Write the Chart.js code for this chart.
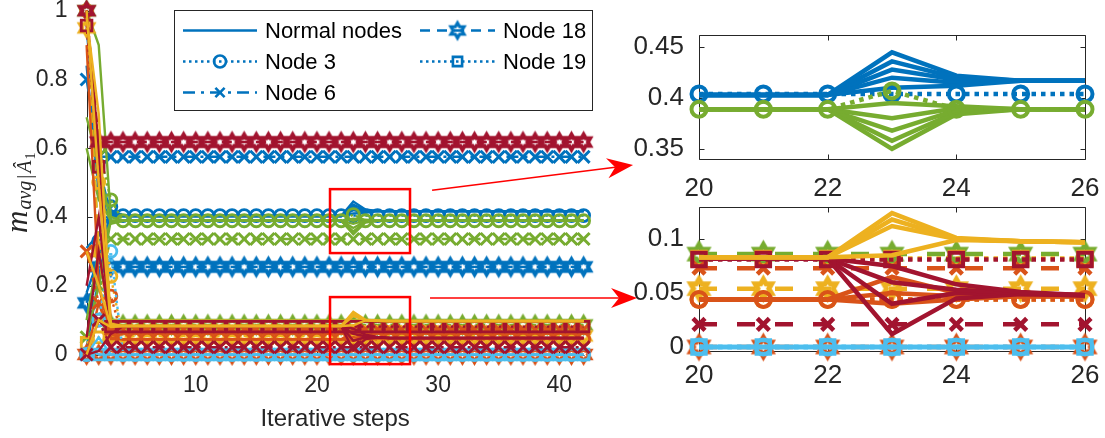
<!DOCTYPE html>
<html>
<head>
<meta charset="utf-8">
<script src="https://cdn.jsdelivr.net/npm/chart.js"></script>
<style>
  html, body { margin: 0; padding: 0; background: #fff; }
  #wrap { position: relative; width: 1105px; height: 438px; overflow: hidden; }
  #wrap canvas { position: absolute; }
</style>
</head>
<body>
<div id="wrap">
  <canvas id="main" width="1105" height="438" style="left:0;top:0;"></canvas>
  <canvas id="zoomHigh" width="495" height="215" style="left:610px;top:0;"></canvas>
  <canvas id="zoomLow" width="495" height="243" style="left:610px;top:195px;"></canvas>
</div>
<script>
// ---------------- data ----------------
const steps = [1,2,3,4,5,6,7,8,9,10,11,12,13,14,15,16,17,18,19,20,21,22,23,24,25,26,27,28,29,30,31,32,33,34,35,36,37,38,39,40,41,42];

const xTickValues = [10, 20, 30, 40];
const yTickValues = [0, 0.2, 0.4, 0.6, 0.8, 1];
const zoomXTicks = [20, 22, 24, 26];
const zoomHighYTicks = [0.35, 0.4, 0.45];
const zoomLowYTicks = [0, 0.05, 0.1];

// blue group
const blueNormal1 = [.84,.47,.42,
  .403,.403,.403,.403,.403, .403,.403,.403,.403,.403, .403,.403,.403,.403,.403, .403,.403,.403,.403,
  .445,.422,.417,.417,
  .417,.417,.417,.417,.417, .417,.417,.417,.417,.417, .417,.417,.417,.417,.417, .417];
const blueNormal2 = [.31,.35,.41,
  .403,.403,.403,.403,.403, .403,.403,.403,.403,.403, .403,.403,.403,.403,.403, .403,.403,.403,.403,
  .436,.420,.417,.417,
  .417,.417,.417,.417,.417, .417,.417,.417,.417,.417, .417,.417,.417,.417,.417, .417];
const blueNormal3 = [.02,.22,.40,
  .403,.403,.403,.403,.403, .403,.403,.403,.403,.403, .403,.403,.403,.403,.403, .403,.403,.403,.403,
  .428,.418,.417,.417,
  .417,.417,.417,.417,.417, .417,.417,.417,.417,.417, .417,.417,.417,.417,.417, .417];
const blueNormal4 = [.18,.28,.415,
  .403,.403,.403,.403,.403, .403,.403,.403,.403,.403, .403,.403,.403,.403,.403, .403,.403,.403,.403,
  .420,.415,.417,.417,
  .417,.417,.417,.417,.417, .417,.417,.417,.417,.417, .417,.417,.417,.417,.417, .417];
const blueNormal5 = [.95,.55,.405,
  .403,.403,.403,.403,.403, .403,.403,.403,.403,.403, .403,.403,.403,.403,.403, .403,.403,.403,.403,
  .410,.412,.417,.417,
  .417,.417,.417,.417,.417, .417,.417,.417,.417,.417, .417,.417,.417,.417,.417, .417];
const blueNode3 = [0,.33,.43,
  .404,.404,.404,.404,.404, .404,.404,.404,.404,.404, .404,.404,.404,.404,.404, .404,.404,.404,.404,
  .404,.404,.404,.404,
  .404,.404,.404,.404,.404, .404,.404,.404,.404,.404, .404,.404,.404,.404,.404, .404];
const blueNode6 = [.80,.575,.575,
  .575,.575,.575,.575,.575, .575,.575,.575,.575,.575, .575,.575,.575,.575,.575, .575,.575,.575,.575,
  .575,.575,.575,.575,
  .575,.575,.575,.575,.575, .575,.575,.575,.575,.575, .575,.575,.575,.575,.575, .575];
const blueNode18 = [.15,.255,.255,
  .255,.255,.255,.255,.255, .255,.255,.255,.255,.255, .255,.255,.255,.255,.255, .255,.255,.255,.255,
  .255,.255,.255,.255,
  .255,.255,.255,.255,.255, .255,.255,.255,.255,.255, .255,.255,.255,.255,.255, .255];

// green group
const greenNormal1 = [1,.90,.40,
  .389,.389,.389,.389,.389, .389,.389,.389,.389,.389, .389,.389,.389,.389,.389, .389,.389,.389,.389,
  .350,.384,.389,.389,
  .389,.389,.389,.389,.389, .389,.389,.389,.389,.389, .389,.389,.389,.389,.389, .389];
const greenNormal2 = [.69,.55,.38,
  .389,.389,.389,.389,.389, .389,.389,.389,.389,.389, .389,.389,.389,.389,.389, .389,.389,.389,.389,
  .358,.386,.389,.389,
  .389,.389,.389,.389,.389, .389,.389,.389,.389,.389, .389,.389,.389,.389,.389, .389];
const greenNormal3 = [.10,.30,.385,
  .389,.389,.389,.389,.389, .389,.389,.389,.389,.389, .389,.389,.389,.389,.389, .389,.389,.389,.389,
  .368,.388,.389,.389,
  .389,.389,.389,.389,.389, .389,.389,.389,.389,.389, .389,.389,.389,.389,.389, .389];
const greenNormal4 = [.05,.20,.39,
  .389,.389,.389,.389,.389, .389,.389,.389,.389,.389, .389,.389,.389,.389,.389, .389,.389,.389,.389,
  .380,.390,.389,.389,
  .389,.389,.389,.389,.389, .389,.389,.389,.389,.389, .389,.389,.389,.389,.389, .389];
const greenNormal5 = [.60,.45,.39,
  .389,.389,.389,.389,.389, .389,.389,.389,.389,.389, .389,.389,.389,.389,.389, .389,.389,.389,.389,
  .395,.392,.389,.389,
  .389,.389,.389,.389,.389, .389,.389,.389,.389,.389, .389,.389,.389,.389,.389, .389];
const greenNode3 = [1,.60,.45,
  .389,.389,.389,.389,.389, .389,.389,.389,.389,.389, .389,.389,.389,.389,.389, .389,.389,.389,.389,
  .407,.389,.389,.389,
  .389,.389,.389,.389,.389, .389,.389,.389,.389,.389, .389,.389,.389,.389,.389, .389];
const greenNode6 = [.05,.20,.336,
  .336,.336,.336,.336,.336, .336,.336,.336,.336,.336, .336,.336,.336,.336,.336, .336,.336,.336,.336,
  .336,.336,.336,.336,
  .336,.336,.336,.336,.336, .336,.336,.336,.336,.336, .336,.336,.336,.336,.336, .336];
const greenNode18 = [1,.30,.086,
  .086,.086,.086,.086,.086, .086,.086,.086,.086,.086, .086,.086,.086,.086,.086, .086,.086,.086,.086,
  .086,.086,.086,.086,
  .086,.086,.086,.086,.086, .086,.086,.086,.086,.086, .086,.086,.086,.086,.086, .086];

// yellow group (special nodes)
const yellowNode18 = [.95,.30,.054,
  .054,.054,.054,.054,.054, .054,.054,.054,.054,.054, .054,.054,.054,.054,.054, .054,.054,.054,.054,
  .054,.054,.054,.054,
  .054,.054,.054,.054,.054, .054,.054,.054,.054,.054, .054,.054,.054,.054,.054, .054];
const yellowNode19 = [.034,.05,.082,
  .082,.082,.082,.082,.082, .082,.082,.082,.082,.082, .082,.082,.082,.082,.082, .082,.082,.082,.082,
  .082,.082,.082,.082,
  .082,.082,.082,.082,.082, .082,.082,.082,.082,.082, .082,.082,.082,.082,.082, .082];
const yellowNode3 = [1,.50,.227,
  .044,.044,.044,.044,.044, .044,.044,.044,.044,.044, .044,.044,.044,.044,.044, .044,.044,.044,.044,
  .044,.044,.044,.044,
  .044,.044,.044,.044,.044, .044,.044,.044,.044,.044, .044,.044,.044,.044,.044, .044];

// orange group
const orangeNormal1 = [1,.50,.06,
  .044,.044,.044,.044,.044, .044,.044,.044,.044,.044, .044,.044,.044,.044,.044, .044,.044,.044,.044,
  .040,.044,.047,.047,
  .047,.047,.047,.047,.047, .047,.047,.047,.047,.047, .047,.047,.047,.047,.047, .047];
const orangeNormal2 = [.90,.20,.05,
  .044,.044,.044,.044,.044, .044,.044,.044,.044,.044, .044,.044,.044,.044,.044, .044,.044,.044,.044,
  .050,.047,.047,.047,
  .047,.047,.047,.047,.047, .047,.047,.047,.047,.047, .047,.047,.047,.047,.047, .047];
const orangeNormal3 = [0,.15,.045,
  .044,.044,.044,.044,.044, .044,.044,.044,.044,.044, .044,.044,.044,.044,.044, .044,.044,.044,.044,
  .065,.050,.047,.047,
  .047,.047,.047,.047,.047, .047,.047,.047,.047,.047, .047,.047,.047,.047,.047, .047];
const orangeNode3 = [0,.10,.17,
  .044,.044,.044,.044,.044, .044,.044,.044,.044,.044, .044,.044,.044,.044,.044, .044,.044,.044,.044,
  .044,.044,.044,.044,
  .044,.044,.044,.044,.044, .044,.044,.044,.044,.044, .044,.044,.044,.044,.044, .044];
const orangeNode6 = [.30,.15,.073,
  .073,.073,.073,.073,.073, .073,.073,.073,.073,.073, .073,.073,.073,.073,.073, .073,.073,.073,.073,
  .073,.073,.073,.073,
  .073,.073,.073,.073,.073, .073,.073,.073,.073,.073, .073,.073,.073,.073,.073, .073];
const orangeNode18 = [0,0,0,
  0,0,0,0,0, 0,0,0,0,0, 0,0,0,0,0, 0,0,0,0,
  0,0,0,0,
  0,0,0,0,0, 0,0,0,0,0, 0,0,0,0,0, 0];

// light blue group
const lightBlueNormal1 = [0,.05,0,
  0,0,0,0,0, 0,0,0,0,0, 0,0,0,0,0, 0,0,0,0,
  0,0,0,0,
  0,0,0,0,0, 0,0,0,0,0, 0,0,0,0,0, 0];
const lightBlueNormal2 = [.02,0,0,
  0,0,0,0,0, 0,0,0,0,0, 0,0,0,0,0, 0,0,0,0,
  0,0,0,0,
  0,0,0,0,0, 0,0,0,0,0, 0,0,0,0,0, 0];
const lightBlueNode3 = [0,.10,.30,
  0,0,0,0,0, 0,0,0,0,0, 0,0,0,0,0, 0,0,0,0,
  0,0,0,0,
  0,0,0,0,0, 0,0,0,0,0, 0,0,0,0,0, 0];
const lightBlueNode19 = [0,0,0,
  0,0,0,0,0, 0,0,0,0,0, 0,0,0,0,0, 0,0,0,0,
  0,0,0,0,
  0,0,0,0,0, 0,0,0,0,0, 0,0,0,0,0, 0];

// dark red group
const darkRedNormal1 = [0,.01,.06,
  .082,.082,.082,.082,.082, .082,.082,.082,.082,.082, .082,.082,.082,.082,.082, .082,.082,.082,.082,
  .012,.045,.049,.048,
  .048,.048,.048,.048,.048, .048,.048,.048,.048,.048, .048,.048,.048,.048,.048, .048];
const darkRedNormal2 = [.05,.30,.085,
  .082,.082,.082,.082,.082, .082,.082,.082,.082,.082, .082,.082,.082,.082,.082, .082,.082,.082,.082,
  .040,.050,.049,.048,
  .048,.048,.048,.048,.048, .048,.048,.048,.048,.048, .048,.048,.048,.048,.048, .048];
const darkRedNormal3 = [1,.60,.09,
  .082,.082,.082,.082,.082, .082,.082,.082,.082,.082, .082,.082,.082,.082,.082, .082,.082,.082,.082,
  .060,.053,.050,.048,
  .048,.048,.048,.048,.048, .048,.048,.048,.048,.048, .048,.048,.048,.048,.048, .048];
const darkRedNormal4 = [.20,.40,.082,
  .082,.082,.082,.082,.082, .082,.082,.082,.082,.082, .082,.082,.082,.082,.082, .082,.082,.082,.082,
  .075,.058,.051,.048,
  .048,.048,.048,.048,.048, .048,.048,.048,.048,.048, .048,.048,.048,.048,.048, .048];
const darkRedNode6 = [0,.10,.021,
  .021,.021,.021,.021,.021, .021,.021,.021,.021,.021, .021,.021,.021,.021,.021, .021,.021,.021,.021,
  .021,.021,.021,.021,
  .021,.021,.021,.021,.021, .021,.021,.021,.021,.021, .021,.021,.021,.021,.021, .021];
const darkRedNode18 = [1,.618,.618,
  .618,.618,.618,.618,.618, .618,.618,.618,.618,.618, .618,.618,.618,.618,.618, .618,.618,.618,.618,
  .618,.618,.618,.618,
  .618,.618,.618,.618,.618, .618,.618,.618,.618,.618, .618,.618,.618,.618,.618, .618];
const darkRedNode19 = [.957,.546,.081,
  .081,.081,.081,.081,.081, .081,.081,.081,.081,.081, .081,.081,.081,.081,.081, .081,.081,.081,.081,
  .081,.081,.081,.081,
  .081,.081,.081,.081,.081, .081,.081,.081,.081,.081, .081,.081,.081,.081,.081, .081];

// yellow group (normal nodes)
const yellowNormal1 = [1,.50,.083,
  .083,.083,.083,.083,.083, .083,.083,.083,.083,.083, .083,.083,.083,.083,.083, .083,.083,.083,.083,
  .124,.101,.098,.097,
  .097,.097,.097,.097,.097, .097,.097,.097,.097,.097, .097,.097,.097,.097,.097, .097];
const yellowNormal2 = [.98,.70,.09,
  .083,.083,.083,.083,.083, .083,.083,.083,.083,.083, .083,.083,.083,.083,.083, .083,.083,.083,.083,
  .118,.100,.098,.097,
  .097,.097,.097,.097,.097, .097,.097,.097,.097,.097, .097,.097,.097,.097,.097, .097];
const yellowNormal3 = [0,.10,.08,
  .083,.083,.083,.083,.083, .083,.083,.083,.083,.083, .083,.083,.083,.083,.083, .083,.083,.083,.083,
  .112,.100,.098,.097,
  .097,.097,.097,.097,.097, .097,.097,.097,.097,.097, .097,.097,.097,.097,.097, .097];
const yellowNormal4 = [.30,.20,.083,
  .083,.083,.083,.083,.083, .083,.083,.083,.083,.083, .083,.083,.083,.083,.083, .083,.083,.083,.083,
  .085,.099,.098,.097,
  .097,.097,.097,.097,.097, .097,.097,.097,.097,.097, .097,.097,.097,.097,.097, .097];

// plotting order: later rows are drawn on top
const seriesTable = [
  ['blue', 'normal', blueNormal1], ['blue', 'normal', blueNormal2], ['blue', 'normal', blueNormal3],
  ['blue', 'normal', blueNormal4], ['blue', 'normal', blueNormal5],
  ['blue', 'n3', blueNode3], ['blue', 'n6', blueNode6], ['blue', 'n18', blueNode18],
  ['green', 'normal', greenNormal1], ['green', 'normal', greenNormal2], ['green', 'normal', greenNormal3],
  ['green', 'normal', greenNormal4], ['green', 'normal', greenNormal5],
  ['green', 'n3', greenNode3], ['green', 'n6', greenNode6], ['green', 'n18', greenNode18],
  ['yellow', 'n18', yellowNode18], ['yellow', 'n19', yellowNode19], ['yellow', 'n3', yellowNode3],
  ['orange', 'normal', orangeNormal1], ['orange', 'normal', orangeNormal2], ['orange', 'normal', orangeNormal3],
  ['orange', 'n3', orangeNode3], ['orange', 'n6', orangeNode6], ['orange', 'n18', orangeNode18],
  ['lightBlue', 'normal', lightBlueNormal1], ['lightBlue', 'normal', lightBlueNormal2],
  ['lightBlue', 'n3', lightBlueNode3], ['lightBlue', 'n19', lightBlueNode19],
  ['darkRed', 'normal', darkRedNormal1], ['darkRed', 'normal', darkRedNormal2],
  ['darkRed', 'normal', darkRedNormal3], ['darkRed', 'normal', darkRedNormal4],
  ['darkRed', 'n6', darkRedNode6], ['darkRed', 'n18', darkRedNode18], ['darkRed', 'n19', darkRedNode19],
  ['yellow', 'normal', yellowNormal1], ['yellow', 'normal', yellowNormal2],
  ['yellow', 'normal', yellowNormal3], ['yellow', 'normal', yellowNormal4]
];

const legendItems = [['Normal nodes', 'normal'], ['Node 3', 'n3'], ['Node 6', 'n6'], ['Node 18', 'n18'], ['Node 19', 'n19']];

seriesTable.forEach(([, , v], i) => {
  if (v.length !== steps.length) throw new Error('series ' + i + ' has ' + v.length + ' values');
});

// ---------------- styles ----------------
const INK = '#262626';
const FONT = "'Liberation Sans', Arial, Helvetica, sans-serif";
const SERIF = "'Liberation Serif', 'DejaVu Serif', serif";
const palette = {
  blue: '#0072BD', orange: '#D95319', yellow: '#EDB120',
  green: '#77AC30', lightBlue: '#4DBEEE', darkRed: '#A2142F'
};
const kinds = {
  normal: { dash: 'solid', marker: null },
  n3: { dash: 'dotted', marker: 'circle' },
  n6: { dash: 'dashdot', marker: 'cross' },
  n18: { dash: 'dashed', marker: 'hex' },
  n19: { dash: 'dotted', marker: 'rect' }
};
const looks = {
  main: {
    line: 2.4,
    dash: { solid: [], dotted: [2.5, 3.5], dashed: [10, 7], dashdot: [12, 6, 3, 6] },
    circle: [6, 2.8], cross: [8.5, 3], rect: [7.5, 2.8], hex: [7.5, 4]
  },
  legend: {
    line: 2.4,
    dash: { solid: [], dotted: [2.5, 3.5], dashed: [10, 7], dashdot: [12, 6, 3, 6] },
    circle: [6, 2.6], cross: [6.5, 2.6], rect: [6.5, 2.6], hex: [7.5, 3.2]
  },
  zoom: {
    line: 4.5,
    dash: { solid: [], dotted: [4.5, 5], dashed: [18, 20], dashdot: [18, 20] },
    circle: [7.5, 4], cross: [8.5, 4.5], rect: [9.5, 4], hex: [9.5, 5]
  }
};

Chart.defaults.font.family = FONT;
Chart.defaults.color = INK;

const hexCache = {};
function hexagram(color, R, w) {
  const key = color + R + '_' + w;
  if (hexCache[key]) return hexCache[key];
  const size = Math.ceil(2 * R + 4 * w + 2);
  const c = document.createElement('canvas');
  c.width = size; c.height = size;
  const g = c.getContext('2d');
  g.translate(size / 2, size / 2);
  const r = R / Math.sqrt(3);
  g.beginPath();
  for (let i = 0; i < 12; i++) {
    const a = -Math.PI / 2 + i * Math.PI / 6;
    const rr = i % 2 ? r : R;
    g.lineTo(rr * Math.cos(a), rr * Math.sin(a));
  }
  g.closePath();
  g.strokeStyle = color; g.lineWidth = w; g.lineJoin = 'miter';
  g.stroke();
  hexCache[key] = c;
  return c;
}

function styledDataset(group, kind, pts, look, i) {
  const k = kinds[kind];
  const col = palette[group];
  const ds = {
    data: pts, order: -i,
    borderColor: col, borderWidth: look.line, borderDash: look.dash[k.dash],
    pointRadius: 0, pointBorderWidth: 0,
    pointBorderColor: col, pointBackgroundColor: 'rgba(0,0,0,0)',
    fill: false, tension: 0, clip: false
  };
  if (k.marker === 'circle') { ds.pointStyle = 'circle'; [ds.pointRadius, ds.pointBorderWidth] = look.circle; }
  if (k.marker === 'cross') { ds.pointStyle = 'crossRot'; [ds.pointRadius, ds.pointBorderWidth] = look.cross; }
  if (k.marker === 'rect') { ds.pointStyle = 'rect'; [ds.pointRadius, ds.pointBorderWidth] = look.rect; }
  if (k.marker === 'hex') { ds.pointStyle = hexagram(col, look.hex[0], look.hex[1]); ds.pointRadius = look.hex[0]; }
  return ds;
}

function buildDatasets(look, keepStep, yMin, yMax) {
  const out = [];
  seriesTable.forEach(([group, kind, values], i) => {
    const pts = [];
    steps.forEach((s, j) => { if (keepStep(s)) pts.push({ x: s, y: values[j] }); });
    if (pts.some(p => p.y < yMin || p.y > yMax)) return;
    out.push(styledDataset(group, kind, pts, look, i));
  });
  return out;
}

function fmt(v) { return String(Number(Number(v).toFixed(3))); }

// axis lines, box and inward tick marks
const framePlugin = {
  id: 'frame',
  beforeDatasetsDraw(chart, args, opts) {
    const { ctx, chartArea: a } = chart;
    const x = chart.scales.x, y = chart.scales.y;
    const L = Math.round(a.left) + .5, R = Math.round(a.right) + .5;
    const T = Math.round(a.top) + .5, B = Math.round(a.bottom) + .5;
    const t = opts.tick;
    ctx.save();
    ctx.strokeStyle = INK; ctx.lineWidth = 1; ctx.setLineDash([]);
    ctx.beginPath();
    if (opts.box) ctx.rect(L, T, R - L, B - T);
    else { ctx.moveTo(L, T); ctx.lineTo(L, B); ctx.lineTo(R, B); }
    x.ticks.forEach(k => {
      const p = Math.round(x.getPixelForValue(k.value)) + .5;
      ctx.moveTo(p, B); ctx.lineTo(p, B - t);
      if (opts.box) { ctx.moveTo(p, T); ctx.lineTo(p, T + t); }
    });
    y.ticks.forEach(k => {
      const p = Math.round(y.getPixelForValue(k.value)) + .5;
      ctx.moveTo(L, p); ctx.lineTo(L + t, p);
      if (opts.box) { ctx.moveTo(R, p); ctx.lineTo(R - t, p); }
    });
    ctx.stroke();
    ctx.restore();
  }
};

// red zoom boxes and arrows, in main-axis coordinates
const zoomMarks = [
  { box: [21.08, 27.68, 0.295, 0.481], from: [29.5, 0.478], to: [46.08, 0.551] },
  { box: [21.08, 27.68, -0.028, 0.167], from: [29.33, 0.164], to: [46.41, 0.164] }
];
function drawArrow(ctx, x0, y0, x1, y1) {
  const dx = x1 - x0, dy = y1 - y0, len = Math.hypot(dx, dy);
  const ux = dx / len, uy = dy / len, px = -uy, py = ux;
  const L = 26, W = 10, N = 18;
  ctx.beginPath(); ctx.moveTo(x0, y0); ctx.lineTo(x1 - ux * N, y1 - uy * N); ctx.stroke();
  ctx.beginPath();
  ctx.moveTo(x1, y1);
  ctx.lineTo(x1 - ux * L + px * W, y1 - uy * L + py * W);
  ctx.lineTo(x1 - ux * N, y1 - uy * N);
  ctx.lineTo(x1 - ux * L - px * W, y1 - uy * L - py * W);
  ctx.closePath(); ctx.fill();
}
const zoomMarkPlugin = {
  id: 'zoomMarks',
  afterDraw(chart) {
    const { ctx } = chart;
    const x = chart.scales.x, y = chart.scales.y;
    ctx.save();
    ctx.strokeStyle = '#FF0000'; ctx.fillStyle = '#FF0000'; ctx.setLineDash([]);
    zoomMarks.forEach(m => {
      const x0 = x.getPixelForValue(m.box[0]), x1 = x.getPixelForValue(m.box[1]);
      const y0 = y.getPixelForValue(m.box[2]), y1 = y.getPixelForValue(m.box[3]);
      ctx.lineWidth = 2.5;
      ctx.strokeRect(x0, y1, x1 - x0, y0 - y1);
      ctx.lineWidth = 1.5;
      drawArrow(ctx, x.getPixelForValue(m.from[0]), y.getPixelForValue(m.from[1]),
                     x.getPixelForValue(m.to[0]), y.getPixelForValue(m.to[1]));
    });
    ctx.restore();
  }
};

// legend with line samples and markers
const legendLayout = { box: [174.5, 10.5, 418, 100], cols: [[183, 257, 265], [420, 495, 503]], rows: [30.5, 61.5, 92.5], perCol: 3 };
const legendPlugin = {
  id: 'nodeLegend',
  afterDraw(chart) {
    const { ctx } = chart;
    const look = looks.legend;
    const col = palette.blue;
    const [bx, by, bw, bh] = legendLayout.box;
    ctx.save();
    ctx.fillStyle = '#fff'; ctx.fillRect(bx, by, bw, bh);
    ctx.strokeStyle = INK; ctx.lineWidth = 1; ctx.setLineDash([]);
    ctx.strokeRect(bx, by, bw, bh);
    legendItems.forEach(([text, kind], i) => {
      const k = kinds[kind];
      const [x0, x1, tx] = legendLayout.cols[Math.floor(i / legendLayout.perCol)];
      const yy = legendLayout.rows[i % legendLayout.perCol];
      ctx.strokeStyle = col; ctx.lineWidth = look.line;
      ctx.setLineDash(look.dash[k.dash]);
      ctx.beginPath(); ctx.moveTo(x0, yy); ctx.lineTo(x1, yy); ctx.stroke();
      ctx.setLineDash([]);
      const cx = (x0 + x1) / 2;
      ctx.fillStyle = 'rgba(0,0,0,0)';
      if (k.marker === 'hex') {
        const img = hexagram(col, look.hex[0], look.hex[1]);
        ctx.drawImage(img, cx - img.width / 2, yy - img.height / 2);
      } else if (k.marker) {
        const spec = { circle: ['circle', look.circle], cross: ['crossRot', look.cross], rect: ['rect', look.rect] }[k.marker];
        ctx.lineWidth = spec[1][1];
        Chart.helpers.drawPoint(ctx, { pointStyle: spec[0], radius: spec[1][0], borderWidth: spec[1][1], rotation: 0 }, cx, yy);
      }
      ctx.fillStyle = '#000';
      ctx.font = '22px ' + FONT;
      ctx.textBaseline = 'middle'; ctx.textAlign = 'left';
      ctx.fillText(text, tx, yy + 1);
    });
    ctx.restore();
  }
};

// rotated math-style y-axis title: m_{avg|Â_1}
const yTitleParts = [
  { t: 'm', style: 'italic', size: 31, shift: 0, gap: 1 },
  { t: 'avg', style: 'italic', size: 20, shift: 4, gap: 2 },
  { t: '|', style: 'normal', size: 20, shift: 4, gap: 2 },
  { t: 'Â', style: 'italic', size: 20, shift: 4, gap: 1 },
  { t: '1', style: 'normal', size: 14, shift: 8, gap: 0 }
];
const yTitlePlugin = {
  id: 'yTitle',
  afterDraw(chart) {
    const { ctx } = chart;
    ctx.save();
    ctx.translate(27, 233);
    ctx.rotate(-Math.PI / 2);
    ctx.fillStyle = INK;
    ctx.textBaseline = 'alphabetic'; ctx.textAlign = 'left';
    let cur = 0;
    yTitleParts.forEach(p => {
      ctx.font = p.style + ' ' + p.size + 'px ' + SERIF;
      ctx.fillText(p.t, cur, p.shift);
      cur += ctx.measureText(p.t).width + p.gap;
    });
    ctx.restore();
  }
};

function makeConfig(datasets, o, extra) {
  return {
    type: 'line',
    data: { datasets },
    options: {
      responsive: false, animation: false, events: [],
      devicePixelRatio: 1,
      layout: { autoPadding: false, padding: o.padding },
      plugins: { legend: { display: false }, tooltip: { enabled: false }, frame: o.frame },
      scales: {
        x: {
          type: 'linear', min: o.xMin, max: o.xMax,
          afterBuildTicks: s => { s.ticks = o.xTicks.map(v => ({ value: v })); },
          afterFit: s => { s.height = o.xHeight; s.paddingLeft = 0; s.paddingRight = 0; },
          grid: { display: false }, border: { display: false },
          ticks: { font: { size: o.font }, color: INK, padding: o.xPad, maxRotation: 0, autoSkip: false, callback: v => fmt(v) },
          title: o.xTitle || { display: false }
        },
        y: {
          type: 'linear', min: o.yMin, max: o.yMax,
          afterBuildTicks: s => { s.ticks = o.yTicks.map(v => ({ value: v })); },
          afterFit: s => { s.width = o.yWidth; s.paddingTop = 0; s.paddingBottom = 0; },
          grid: { display: false }, border: { display: false },
          ticks: { font: { size: o.font }, color: INK, padding: o.yPad, autoSkip: false, callback: v => fmt(v) }
        }
      }
    },
    plugins: [framePlugin].concat(extra || [])
  };
}

// main convergence plot
new Chart(document.getElementById('main'), makeConfig(
  buildDatasets(looks.main, () => true, -Infinity, Infinity),
  {
    padding: { left: 0, top: 10.7, right: 521.4, bottom: 0 },
    xMin: 1, xMax: 42, yMin: 0, yMax: 1,
    xTicks: xTickValues, yTicks: yTickValues,
    xHeight: 83.5, yWidth: 86.6, font: 23, xPad: 9, yPad: 11,
    frame: { box: false, tick: 5 },
    xTitle: { display: true, text: 'Iterative steps', color: INK, font: { size: 24 }, padding: { top: 0, bottom: 4 } }
  },
  [zoomMarkPlugin, legendPlugin, yTitlePlugin]
));

// zoomed views of steps 20-26
const inZoomWindow = s => s >= 20 && s <= 26;
new Chart(document.getElementById('zoomHigh'), makeConfig(
  buildDatasets(looks.zoom, inZoomWindow, 0.34, 0.462),
  {
    padding: { left: 0, top: 35, right: 20, bottom: 0 },
    xMin: 20, xMax: 26, yMin: 0.34, yMax: 0.462,
    xTicks: zoomXTicks, yTicks: zoomHighYTicks,
    xHeight: 56, yWidth: 89, font: 26, xPad: 6, yPad: 7,
    frame: { box: true, tick: 5 }
  }
));
new Chart(document.getElementById('zoomLow'), makeConfig(
  buildDatasets(looks.zoom, inZoomWindow, -0.004, 0.13),
  {
    padding: { left: 0, top: 11.6, right: 20, bottom: 0 },
    xMin: 20, xMax: 26, yMin: -0.004, yMax: 0.13,
    xTicks: zoomXTicks, yTicks: zoomLowYTicks,
    xHeight: 86.7, yWidth: 89, font: 26, xPad: 1, yPad: 7,
    frame: { box: true, tick: 5 }
  }
));
</script>
</body>
</html>
